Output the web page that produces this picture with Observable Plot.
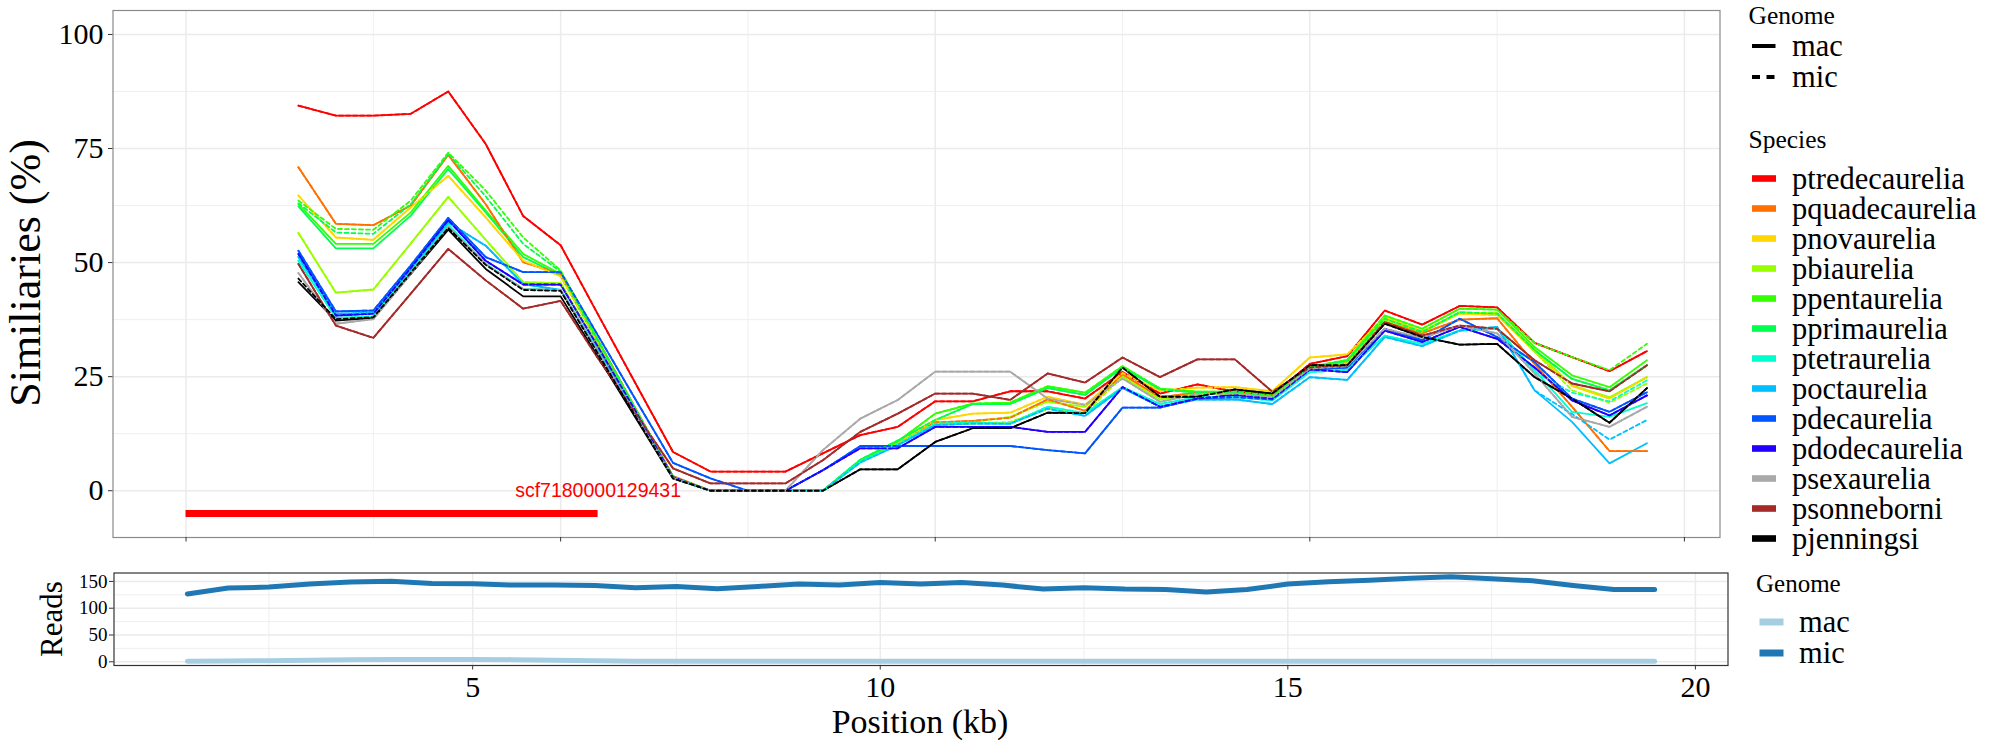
<!DOCTYPE html>
<html><head><meta charset="utf-8">
<script src="https://cdn.jsdelivr.net/npm/d3@7"></script>
<script src="https://cdn.jsdelivr.net/npm/@observablehq/plot@0.6"></script>
<style>
html,body{margin:0;padding:0;background:#fff;}
#wrap{position:relative;width:2000px;height:750px;overflow:hidden;background:#fff;font-family:'Liberation Serif',serif;}
#top{position:absolute;left:0;top:0;}
#bot{position:absolute;left:0;top:560px;}
#overlay{position:absolute;left:0;top:0;}
#overlay text{font-family:'Liberation Serif',serif;}
</style></head>
<body><div id="wrap"><div id="top"></div><div id="bot"></div><svg id="overlay" width="2000" height="750"></svg></div>
<script>
// ---------- data ----------
const positions = [1.5,2,2.5,3,3.5,4,4.5,5,5.5,6,6.5,7,7.5,8,8.5,9,9.5,10,10.5,11,11.5,12,12.5,13,13.5,14,14.5,15,15.5,16,16.5,17,17.5,18,18.5,19,19.5];
const species = ["ptredecaurelia","pquadecaurelia","pnovaurelia","pbiaurelia","ppentaurelia","pprimaurelia","ptetraurelia","poctaurelia","pdecaurelia","pdodecaurelia","psexaurelia","psonneborni","pjenningsi"];
const speciesColors = ["#FF0000","#FF7000","#FFD700","#99FF00","#33FF00","#00FF4C","#00FFCC","#00BFFF","#0055FF","#2200FF","#A9A9A9","#A52A2A","#000000"];
const genomes = ["mac","mic"];

const ptredecaureliaMac = [84.4,82.2,82.2,82.6,87.5,76.0,60.2,53.8,38.6,23.5,8.5,4.2,4.2,4.2,8.2,12.2,14.0,19.6,19.6,21.8,21.8,20.2,26.0,21.3,23.3,21.7,20.9,27.8,29.5,39.5,36.4,40.5,40.2,32.4,29.3,26.2,30.6];
const pquadecaureliaMac = [70.9,58.5,58.2,62.5,73.6,62.8,50.1,47.5,33.0,18.0,3.2,0,0,0,0,6.4,10.4,15.0,15.3,16.0,20.0,17.5,25.5,20.5,21.5,21.3,20.0,26.5,28.0,37.0,34.5,37.5,37.8,27.8,18.4,8.7,8.7];
const pnovaureliaMac = [64.7,55.5,55.0,62.1,69.0,59.9,50.4,47.0,32.5,17.8,3.0,0,0,0,0,6.4,10.4,15.5,16.9,17.1,20.6,18.8,25.8,21.9,22.6,22.7,21.8,29.2,29.9,38.0,35.0,38.8,38.5,30.5,23.0,20.2,24.9];
const pbiaureliaMac = [56.5,43.4,44.1,54.2,64.4,55.0,45.7,45.5,31.5,17.5,3.0,0,0,0,0,6.4,10.4,15.0,15.1,16.2,19.5,18.4,25.0,20.0,21.2,21.3,20.5,26.8,28.0,37.5,34.8,39.0,39.0,31.0,23.1,20.5,24.9];
const ppentaureliaMac = [62.8,54.1,54.1,61.0,71.2,61.4,51.9,47.5,32.5,17.8,3.0,0,0,0,0,6.6,10.8,16.9,19.1,19.3,22.9,21.5,27.3,22.4,21.7,21.7,20.9,27.1,28.7,38.4,35.5,39.9,39.7,31.5,25.3,22.7,28.6];
const pprimaureliaMac = [62.3,53.1,53.1,60.3,70.5,61.0,51.2,47.2,32.3,17.6,3.0,0,0,0,0,6.8,11.0,15.5,19.0,19.0,22.5,21.0,27.0,22.2,21.5,21.5,20.7,27.0,28.5,37.7,34.8,39.1,38.8,30.8,24.5,22.0,27.5];
const ptetraureliaMac = [50.4,37.9,38.2,48.2,58.3,49.7,44.2,44.0,30.5,16.8,2.8,0,0,0,0,6.4,10.2,14.7,15.0,14.7,18.4,17.0,22.7,19.0,20.5,20.5,19.8,26.0,26.5,34.0,32.2,35.1,35.5,26.4,17.3,16.2,19.2];
const poctaureliaMac = [51.2,38.8,39.0,48.6,58.8,53.7,45.3,44.0,30.5,16.8,2.8,0,0,0,0,6.2,10.0,14.4,14.7,14.7,18.0,16.4,22.5,18.4,20.0,20.0,19.0,24.9,24.3,33.7,31.7,35.1,35.9,22.0,15.1,6.0,10.4];
const pdecaureliaMac = [52.6,39.3,39.5,49.4,59.8,51.2,47.9,47.9,34.0,20.0,6.1,2.7,0,0,4.5,9.8,9.8,9.8,9.8,9.8,8.9,8.2,18.2,18.2,20.2,20.5,20.0,26.5,27.0,35.5,33.0,37.7,33.7,28.2,20.2,17.3,21.6];
const pdodecaureliaMac = [51.9,38.4,38.8,48.8,59.3,50.4,45.2,45.2,31.5,17.5,3.0,0,0,0,4.5,9.3,9.3,14.0,14.0,14.0,12.9,12.9,22.7,18.4,20.2,21.0,20.2,26.6,26.0,35.1,32.6,35.9,33.3,27.0,19.8,16.5,20.9];
const psexaureliaMac = [47.7,36.6,37.6,47.5,57.9,49.7,44.2,44.0,30.3,16.6,2.8,0,0,0,8.9,15.8,19.9,26.1,26.1,26.1,20.2,18.8,24.6,19.5,21.2,21.3,20.5,26.8,27.3,35.5,33.5,36.2,34.5,25.7,16.2,14.0,18.4];
const psonneborniMac = [49.7,36.2,33.5,43.2,53.0,46.1,39.9,41.6,29.0,17.0,4.9,1.6,1.6,1.6,6.7,12.9,16.9,21.3,21.3,19.9,25.7,23.7,29.2,24.9,28.8,28.8,21.7,27.0,27.5,37.0,34.0,36.2,35.5,28.6,23.5,21.8,27.5];
const pjenningsiMac = [45.7,37.3,37.9,47.5,57.2,48.6,42.6,42.6,29.3,16.0,2.7,0,0,0,0,4.7,4.7,10.7,13.7,13.7,17.1,17.0,27.0,20.6,20.6,22.2,21.3,27.5,27.5,36.6,33.7,32.0,32.2,24.9,20.2,14.9,22.5];

const ptredecaureliaMic = [84.4,82.2,82.2,82.6,87.5,76.0,60.2,53.8,38.6,23.5,8.5,4.2,4.2,4.2,8.2,12.2,14.0,19.6,19.6,21.8,21.8,20.2,26.0,21.3,23.3,21.7,20.9,27.8,29.5,39.5,36.4,40.5,40.2,32.4,29.3,26.2,30.6];
const pquadecaureliaMic = [70.9,58.5,58.2,62.5,73.6,62.8,50.1,47.5,33.0,18.0,3.2,0,0,0,0,6.4,10.4,15.0,15.3,16.0,20.0,17.5,25.5,20.5,21.5,21.3,20.0,26.5,28.0,37.0,34.5,37.5,37.8,27.8,18.4,8.7,8.7];
const pnovaureliaMic = [64.7,55.5,55.0,62.1,69.0,59.9,50.4,47.0,32.5,17.8,3.0,0,0,0,0,6.4,10.4,15.5,16.9,17.1,20.6,18.8,25.8,21.9,22.6,22.7,21.8,29.2,29.9,38.0,35.0,38.8,38.5,30.5,23.0,20.2,24.9];
const pbiaureliaMic = [56.5,43.4,44.1,54.2,64.4,55.0,45.7,45.5,31.5,17.5,3.0,0,0,0,0,6.4,10.4,14.7,14.7,15.1,18.0,17.0,25.0,20.0,21.2,21.3,20.5,26.8,28.0,37.5,34.8,39.0,39.0,30.5,22.0,19.3,23.5];
const ppentaureliaMic = [63.6,57.4,57.2,63.6,74.1,65.8,55.5,48.3,33.0,18.0,3.0,0,0,0,0,6.6,10.8,16.9,19.1,19.3,22.9,21.5,27.3,22.4,21.7,21.7,20.9,27.1,28.7,38.4,35.5,39.9,39.7,32.4,29.3,26.4,32.2];
const pprimaureliaMic = [63.0,56.6,56.3,62.8,73.8,64.5,54.1,48.0,32.8,17.8,3.0,0,0,0,0,6.8,11.0,15.5,19.0,19.0,22.5,21.0,27.0,22.2,21.5,21.5,20.7,27.0,28.5,37.7,34.8,39.1,38.8,30.8,24.5,22.0,27.5];
const ptetraureliaMic = [50.4,37.9,38.2,48.2,58.3,49.7,44.2,44.0,30.5,16.8,2.8,0,0,0,0,6.4,10.2,14.7,15.0,14.7,18.4,17.0,22.7,19.0,20.5,20.5,19.8,26.0,26.5,34.0,32.2,35.1,35.5,26.0,21.5,19.6,24.2];
const poctaureliaMic = [51.2,38.8,39.0,48.6,58.8,53.7,45.3,44.0,30.5,16.8,2.8,0,0,0,0,6.2,10.0,14.4,14.7,14.7,18.0,16.4,22.5,18.4,20.0,20.0,19.0,24.9,24.3,33.7,31.7,35.1,35.9,22.0,16.8,11.2,15.5];
const pdecaureliaMic = [52.6,39.3,39.5,49.4,59.8,51.2,47.9,47.9,34.0,20.0,6.1,2.7,0,0,4.5,9.8,9.8,9.8,9.8,9.8,8.9,8.2,18.2,18.2,20.2,20.5,20.0,26.5,27.0,35.5,33.0,37.7,33.7,28.2,20.2,17.3,21.6];
const pdodecaureliaMic = [51.9,38.4,38.8,48.8,59.3,50.4,45.2,45.2,31.5,17.5,3.0,0,0,0,4.5,9.3,9.3,14.0,14.0,14.0,12.9,12.9,22.7,18.4,20.2,21.0,20.2,26.6,26.0,35.1,32.6,35.9,33.3,27.0,19.8,16.5,20.9];
const psexaureliaMic = [47.7,36.6,37.6,47.5,57.9,49.7,44.2,44.0,30.3,16.6,2.8,0,0,0,8.9,15.8,19.9,26.1,26.1,26.1,20.2,18.8,24.6,19.5,21.2,21.3,20.5,26.8,27.3,35.5,33.5,36.2,34.5,25.7,16.2,14.0,18.4];
const psonneborniMic = [49.7,36.2,33.5,43.2,53.0,46.1,39.9,41.6,29.0,17.0,4.9,1.6,1.6,1.6,6.7,12.9,16.9,21.3,21.3,19.9,25.7,23.7,29.2,24.9,28.8,28.8,21.7,27.0,27.5,37.0,34.0,36.2,35.5,28.6,23.5,21.8,27.5];
const pjenningsiMic = [46.5,37.6,38.0,47.8,57.6,49.5,44.0,43.8,30.0,16.3,2.7,0,0,0,0,4.7,4.7,10.7,13.7,13.7,17.1,17.0,27.0,20.6,20.6,22.2,21.3,27.5,27.5,36.6,33.7,32.0,32.2,24.9,20.2,14.9,22.5];

const readsMac = [1.0,1.5,2.0,3.0,4.0,4.5,4.5,4.5,4.0,3.0,2.0,1.2,1.0,1.0,1.0,1.0,1.0,1.0,1.0,1.0,1.0,1.0,1.0,1.0,1.0,1.0,1.0,1.0,1.0,1.0,1.0,1.0,1.0,1.0,1.0,1.0,1.0];
const readsMic = [126.5,137.6,139.4,145.0,148.7,150.5,146.2,145.6,143.1,143.1,142.5,138.2,140.7,136.4,140.7,145.0,143.1,148.1,145.0,148.1,143.1,135.7,138.2,135.7,135.1,130.2,135.1,145.0,149.3,152.4,156.1,158.6,154.9,151.2,142.5,135.1,135.1];
const readsColors = ["#A6CEE3","#1F78B4"];

const scaffoldNames = ["scf7180000129431"];
const scaffoldStarts = [0];
const scaffoldEnds = [5.5];
const scaffoldY = [-5];
const scaffoldLabelY = [0];

const simTicks = [0,25,50,75,100];
const simMinorTicks = [12.5,37.5,62.5,87.5];
const posTicks = [0,5,10,15,20];
const posMinorTicks = [2.5,7.5,12.5,17.5];
const posTicksBottom = [5,10,15,20];
const readsTicks = [0,50,100,150];
const readsMinorTicks = [25,75,125];

// ---------- tables ----------
const macSeries = [ptredecaureliaMac,pquadecaureliaMac,pnovaureliaMac,pbiaureliaMac,ppentaureliaMac,pprimaureliaMac,ptetraureliaMac,poctaureliaMac,pdecaureliaMac,pdodecaureliaMac,psexaureliaMac,psonneborniMac,pjenningsiMac];
const micSeries = [ptredecaureliaMic,pquadecaureliaMic,pnovaureliaMic,pbiaureliaMic,ppentaureliaMic,pprimaureliaMic,ptetraureliaMic,poctaureliaMic,pdecaureliaMic,pdodecaureliaMic,psexaureliaMic,psonneborniMic,pjenningsiMic];
function rows(series, genome) {
  const out = [];
  series.forEach((vals, si) => vals.forEach((v, i) => out.push({species: species[si], genome, pos: positions[i], value: v})));
  return out;
}
const macRows = rows(macSeries, "mac");
const micRows = rows(micSeries, "mic");
const scaffolds = scaffoldNames.map((n, i) => ({name: n, start: scaffoldStarts[i], end: scaffoldEnds[i], y: scaffoldY[i], ly: scaffoldLabelY[i]}));
const readRows = [];
[readsMac, readsMic].forEach((vals, gi) => vals.forEach((v, i) => readRows.push({genome: genomes[gi], pos: positions[i], reads: v})));

const serif = "'Liberation Serif', 'Times New Roman', serif";
const sans = "'Liberation Sans', Arial, sans-serif";
const gridCol = "#EBEBEB";

// ---------- top plot ----------
const topPlot = Plot.plot({
  width: 1740, height: 548,
  marginLeft: 112.5, marginRight: 20.5, marginTop: 10, marginBottom: 11,
  style: {fontFamily: serif, background: "white", color: "#000"},
  x: {domain: [-0.975, 20.475]},
  y: {domain: [-10.25, 105.25]},
  color: {domain: species, range: speciesColors},
  marks: [
    Plot.gridX(posMinorTicks, {stroke: gridCol, strokeOpacity: 1, strokeWidth: 0.8}),
    Plot.gridY(simMinorTicks, {stroke: gridCol, strokeOpacity: 1, strokeWidth: 0.8}),
    Plot.gridX(posTicks, {stroke: gridCol, strokeOpacity: 1, strokeWidth: 1.5}),
    Plot.gridY(simTicks, {stroke: gridCol, strokeOpacity: 1, strokeWidth: 1.5}),
    Plot.line(macRows, {x: "pos", y: "value", z: "species", stroke: "species", strokeWidth: 1.8}),
    Plot.line(micRows, {x: "pos", y: "value", z: "species", stroke: "species", strokeWidth: 1.8, strokeDasharray: "4,3"}),
    Plot.ruleY(scaffolds, {y: "y", x1: "start", x2: "end", stroke: "#FF0000", strokeWidth: 7}),
    Plot.text(scaffolds, {x: "end", y: "ly", text: "name", fill: "#FF0000", fontSize: 19.5, fontFamily: sans, textAnchor: "middle"}),
    Plot.frame({stroke: "#8a8a8a", strokeWidth: 1.2}),
    Plot.axisY(simTicks, {tickSize: 4.5, tickPadding: 5, fontSize: 30, fontFamily: serif, stroke: "#333", fill: "#000", label: null}),
    Plot.axisX(posTicks, {tickSize: 4.5, tickFormat: () => "", stroke: "#333", label: null})
  ]
});
document.getElementById("top").appendChild(topPlot);

// ---------- bottom plot ----------
const botPlot = Plot.plot({
  width: 1740, height: 190,
  marginLeft: 113.5, marginRight: 12.5, marginTop: 12.5, marginBottom: 85,
  style: {fontFamily: serif, background: "white", color: "#000"},
  x: {domain: [0.6, 20.4]},
  y: {domain: [-6.9, 165.7]},
  color: {domain: genomes, range: readsColors},
  marks: [
    Plot.gridX(posMinorTicks, {stroke: gridCol, strokeOpacity: 1, strokeWidth: 0.8}),
    Plot.gridY(readsMinorTicks, {stroke: gridCol, strokeOpacity: 1, strokeWidth: 0.8}),
    Plot.gridX(posTicksBottom, {stroke: gridCol, strokeOpacity: 1, strokeWidth: 1.5}),
    Plot.gridY(readsTicks, {stroke: gridCol, strokeOpacity: 1, strokeWidth: 1.5}),
    Plot.line(readRows, {x: "pos", y: "reads", z: "genome", stroke: "genome", strokeWidth: 5}),
    Plot.frame({stroke: "#333", strokeWidth: 1.2}),
    Plot.axisY(readsTicks, {tickSize: 4.5, tickPadding: 2, fontSize: 19, fontFamily: serif, stroke: "#333", fill: "#000", label: null}),
    Plot.axisX(posTicksBottom, {tickSize: 4.5, tickPadding: 6, fontSize: 30, fontFamily: serif, stroke: "#333", fill: "#000", label: null})
  ]
});
document.getElementById("bot").appendChild(botPlot);

// ---------- titles & legends ----------
const ov = d3.select("#overlay");
function txt(x, y, s, size, opts = {}) {
  const t = ov.append("text").attr("x", x).attr("y", y).attr("font-size", size)
    .attr("font-family", serif).attr("fill", "#000").text(s);
  if (opts.anchor) t.attr("text-anchor", opts.anchor);
  if (opts.weight) t.attr("font-weight", opts.weight);
  if (opts.transform) t.attr("transform", opts.transform).attr("x", 0).attr("y", 0);
  return t;
}
txt(0, 0, "Similiaries (%)", 44, {anchor: "middle", transform: "translate(39.5,273) rotate(-90)"});
txt(0, 0, "Reads", 31, {anchor: "middle", transform: "translate(62,619) rotate(-90)"});
txt(920, 733, "Position (kb)", 34, {anchor: "middle"});

// top legend: Genome
txt(1748.5, 24, "Genome", 25.5);
const genomeKeyY = [46, 77];
const genomeDash = [null, "8,6.5"];
genomes.forEach((g, i) => {
  const l = ov.append("line").attr("x1", 1752).attr("x2", 1775.5).attr("y1", genomeKeyY[i]).attr("y2", genomeKeyY[i])
    .attr("stroke", "#000").attr("stroke-width", 4);
  if (genomeDash[i]) l.attr("stroke-dasharray", genomeDash[i]);
  txt(1792, genomeKeyY[i] + 9.5, g, 30.5);
});
// top legend: Species
txt(1748.5, 148, "Species", 25.5);
species.forEach((s, i) => {
  const y = 178.5 + 30 * i;
  ov.append("rect").attr("x", 1752).attr("y", y - 3.3).attr("width", 24).attr("height", 6.6).attr("fill", speciesColors[i]);
  txt(1792, y + 10, s, 30.5);
});
// bottom legend
txt(1756, 592, "Genome", 25);
genomes.forEach((g, i) => {
  const y = 622 + 31 * i;
  ov.append("rect").attr("x", 1759.5).attr("y", y - 3.5).attr("width", 24).attr("height", 7).attr("fill", readsColors[i]);
  txt(1799, y + 10, g, 30.5);
});
</script></body></html>
